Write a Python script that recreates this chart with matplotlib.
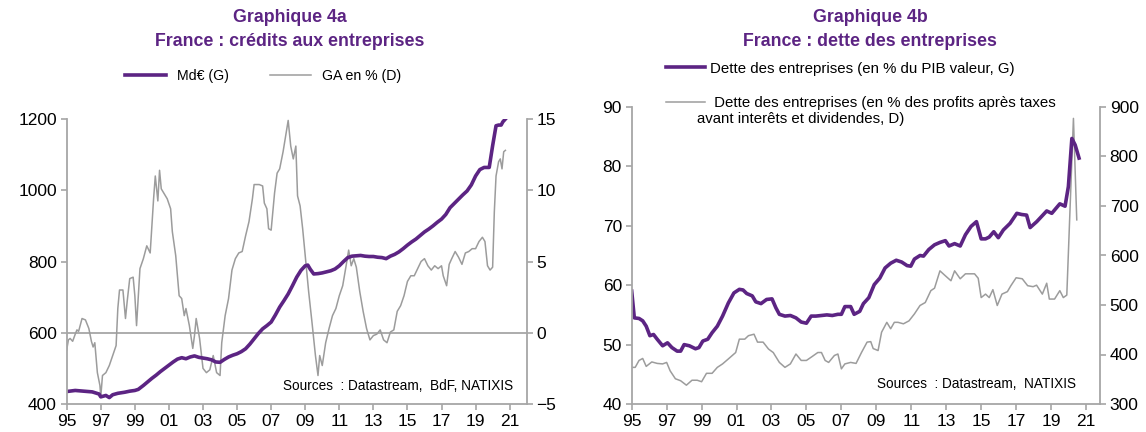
import matplotlib
matplotlib.use("Agg")
import matplotlib.pyplot as plt
import numpy as np

PURPLE = "#5C2483"
GRAY_LINE = "#9C9C9C"
AXIS_GRAY = "#A6A6A6"

# ---------------- Chart 4a data ----------------
credit_years = [1995.0, 1995.5, 1996.0, 1996.5, 1996.9, 1997.0, 1997.3, 1997.5, 1997.7, 1998.0, 1998.4,
                1998.7, 1999.0, 1999.2, 1999.5, 1999.75, 2000.0, 2000.25, 2000.5, 2000.75, 2001.0,
                2001.25, 2001.5, 2001.75, 2002.0, 2002.25, 2002.5, 2002.75, 2003.0, 2003.25, 2003.5,
                2003.75, 2004.0, 2004.25, 2004.5, 2004.75, 2005.0, 2005.25, 2005.5, 2005.75, 2006.0,
                2006.25, 2006.5, 2006.75, 2007.0, 2007.25, 2007.5, 2007.75, 2008.0, 2008.25, 2008.5,
                2008.75, 2009.0, 2009.15, 2009.3, 2009.5, 2009.75, 2010.0, 2010.25, 2010.5, 2010.75,
                2011.0, 2011.25, 2011.5, 2011.75, 2012.0, 2012.25, 2012.5, 2012.75, 2013.0, 2013.25,
                2013.5, 2013.75, 2014.0, 2014.25, 2014.5, 2014.75, 2015.0, 2015.25, 2015.5, 2015.75,
                2016.0, 2016.25, 2016.5, 2016.75, 2017.0, 2017.25, 2017.5, 2017.75, 2018.0, 2018.25,
                2018.5, 2018.75, 2019.0, 2019.25, 2019.5, 2019.8, 2020.0, 2020.2, 2020.35, 2020.5,
                2020.6, 2020.75]
credit_mde = [435, 438, 436, 434, 428, 420, 424, 418, 426, 430, 433,
              436, 438, 441, 452, 462, 472, 481, 491, 500, 509,
              518, 526, 530, 527, 532, 535, 531, 529, 527, 524,
              518, 517, 525, 532, 537, 541, 547, 555, 568, 583,
              598, 611, 620, 630, 650, 672, 690, 709, 732, 756,
              775, 788, 790, 778, 765, 766, 768, 771, 774, 779,
              788, 800, 811, 815, 816, 817, 815, 814, 814, 812,
              811, 808, 815, 820, 827, 836, 846, 855, 863, 873,
              883, 891, 900, 910, 919, 932, 951, 963, 975, 987,
              998, 1015, 1040, 1058, 1064, 1064, 1125, 1181, 1183, 1183,
              1192, 1200]

ga_years = [1995.0, 1995.1, 1995.2, 1995.35, 1995.5, 1995.6, 1995.7, 1995.9, 1996.1, 1996.3, 1996.45,
            1996.55, 1996.65, 1996.8, 1996.95, 1997.0, 1997.1, 1997.3, 1997.5, 1997.7, 1997.9,
            1998.0, 1998.1, 1998.3, 1998.45, 1998.55, 1998.7, 1998.9, 1999.0, 1999.1, 1999.3,
            1999.5, 1999.7, 1999.9, 2000.0, 2000.1, 2000.2, 2000.35, 2000.45, 2000.55, 2000.7,
            2000.9, 2001.1, 2001.2, 2001.4, 2001.6, 2001.75, 2001.9, 2002.0, 2002.2, 2002.4,
            2002.5, 2002.6, 2002.8, 2003.0, 2003.2, 2003.4, 2003.6, 2003.8, 2004.0, 2004.1,
            2004.3, 2004.5, 2004.7, 2004.9, 2005.1, 2005.3, 2005.5, 2005.7, 2005.9, 2006.0,
            2006.3, 2006.5, 2006.6, 2006.75, 2006.85, 2007.0, 2007.2, 2007.35, 2007.5, 2007.7,
            2007.85, 2008.0, 2008.15, 2008.3, 2008.45, 2008.55, 2008.7, 2008.85, 2009.0, 2009.2,
            2009.4, 2009.6, 2009.75, 2009.85, 2010.0, 2010.2, 2010.4, 2010.6, 2010.8, 2011.0,
            2011.2, 2011.4, 2011.55, 2011.7, 2011.85, 2012.0, 2012.2, 2012.4, 2012.6, 2012.8,
            2013.0, 2013.2, 2013.4, 2013.6, 2013.8, 2014.0, 2014.2, 2014.4, 2014.6, 2014.8,
            2015.0, 2015.2, 2015.4, 2015.6, 2015.8, 2016.0, 2016.2, 2016.4, 2016.6, 2016.8,
            2017.0, 2017.1, 2017.3, 2017.45, 2017.6, 2017.8, 2018.0, 2018.2, 2018.4, 2018.6,
            2018.8, 2019.0, 2019.2, 2019.4, 2019.55, 2019.7, 2019.85, 2020.0, 2020.1, 2020.2,
            2020.35, 2020.45, 2020.55, 2020.65, 2020.75]
ga_pct = [-1.2, -0.5, -0.4, -0.6, -0.1, 0.2, 0.1, 1.0, 0.9, 0.3, -0.6,
          -1.0, -0.7, -2.8, -3.7, -4.5, -3.0, -2.8, -2.3, -1.6, -0.9,
          1.7, 3.0, 3.0, 1.0, 2.2, 3.8, 3.9, 2.6, 0.5, 4.5,
          5.2, 6.1, 5.6, 7.5, 9.4, 11.0, 9.25, 11.4, 10.1, 9.8,
          9.4, 8.7, 7.1, 5.4, 2.6, 2.4, 1.2, 1.7, 0.5, -1.1,
          -0.2, 1.0, -0.4, -2.5, -2.8, -2.6, -1.6, -2.8, -3.0, -0.7,
          1.2, 2.4, 4.4, 5.2, 5.6, 5.7, 6.8, 7.8, 9.4, 10.4,
          10.4, 10.3, 9.1, 8.7, 7.3, 7.2, 9.8, 11.2, 11.5, 12.7,
          13.8, 14.9, 13.1, 12.2, 13.1, 9.6, 8.9, 7.3, 5.4, 2.9,
          0.7, -1.6, -3.0, -1.6, -2.3, -0.7, 0.3, 1.2, 1.7, 2.6,
          3.3, 4.7, 5.8, 4.7, 5.2, 4.6, 2.9, 1.5, 0.3, -0.5,
          -0.2, -0.1, 0.2, -0.5, -0.7, 0.05, 0.2, 1.5, 1.9, 2.6,
          3.6, 4.0, 4.0, 4.5, 5.0, 5.2, 4.7, 4.4, 4.7, 4.5,
          4.7, 4.0, 3.3, 4.8, 5.2, 5.7, 5.3, 4.8, 5.6, 5.7,
          5.9, 5.9, 6.4, 6.7, 6.4, 4.7, 4.4, 4.6, 8.5, 11.0,
          12.0, 12.2, 11.5, 12.7, 12.8]

# ---------------- Chart 4b data ----------------
debt_gdp_years = [1995.0, 1995.15, 1995.42, 1995.63, 1995.83, 1996.04, 1996.25, 1996.46, 1996.77, 1997.05,
                  1997.3, 1997.6, 1997.8, 1998.0, 1998.3, 1998.65, 1998.85, 1999.07, 1999.35, 1999.6,
                  1999.9, 2000.2, 2000.53, 2000.85, 2001.16, 2001.37, 2001.58, 2001.9, 2002.1, 2002.4,
                  2002.72, 2003.03, 2003.25, 2003.45, 2003.77, 2004.08, 2004.4, 2004.7, 2005.0, 2005.27,
                  2005.54, 2005.86, 2006.17, 2006.48, 2006.8, 2007.0, 2007.2, 2007.53, 2007.73, 2008.05,
                  2008.26, 2008.57, 2008.88, 2009.2, 2009.5, 2009.82, 2010.14, 2010.45, 2010.76, 2010.97,
                  2011.18, 2011.5, 2011.7, 2012.0, 2012.33, 2012.64, 2012.95, 2013.16, 2013.48, 2013.8,
                  2014.1, 2014.42, 2014.73, 2015.0, 2015.25, 2015.46, 2015.72, 2015.98, 2016.27, 2016.65,
                  2017.04, 2017.32, 2017.6, 2017.8, 2018.18, 2018.75, 2019.04, 2019.5, 2019.8, 2019.99,
                  2020.19, 2020.38, 2020.6]
debt_gdp = [59.0, 54.5, 54.4, 54.0, 53.1, 51.5, 51.7, 50.9, 49.8, 50.3,
            49.5, 48.9, 48.9, 50.0, 49.8, 49.3, 49.5, 50.6, 50.9, 52.0,
            53.1, 54.8, 57.0, 58.7, 59.3, 59.2, 58.6, 58.2, 57.2, 56.9,
            57.6, 57.7, 56.2, 55.1, 54.8, 54.9, 54.5, 53.8, 53.6, 54.8,
            54.8, 54.9, 55.0, 54.9, 55.1, 55.1, 56.4, 56.4, 55.1, 55.6,
            56.9, 57.9, 60.1, 61.2, 62.9, 63.7, 64.2, 63.9, 63.3, 63.2,
            64.4, 65.0, 64.9, 66.0, 66.8, 67.2, 67.5, 66.6, 67.0, 66.6,
            68.5, 69.9, 70.7, 67.8, 67.8, 68.1, 69.0, 68.0, 69.3, 70.4,
            72.1, 71.9, 71.8, 69.7, 70.7, 72.5, 72.1, 73.7, 73.3, 76.6,
            84.7, 83.6, 81.4]

debt_profit_years = [1995.0, 1995.2, 1995.42, 1995.63, 1995.83, 1996.15, 1996.46, 1996.77, 1997.0, 1997.2,
                     1997.5, 1997.8, 1998.13, 1998.45, 1998.75, 1999.0, 1999.28, 1999.6, 1999.9, 2000.2,
                     2000.53, 2000.95, 2001.16, 2001.47, 2001.68, 2002.0, 2002.2, 2002.52, 2002.83, 2003.1,
                     2003.45, 2003.77, 2004.08, 2004.4, 2004.7, 2005.0, 2005.33, 2005.65, 2005.86, 2006.07,
                     2006.27, 2006.6, 2006.8, 2007.0, 2007.2, 2007.53, 2007.84, 2008.15, 2008.47, 2008.68,
                     2008.82, 2009.1, 2009.3, 2009.6, 2009.82, 2010.03, 2010.24, 2010.55, 2010.87, 2011.18,
                     2011.5, 2011.8, 2012.12, 2012.33, 2012.64, 2012.95, 2013.27, 2013.48, 2013.8, 2014.1,
                     2014.42, 2014.62, 2014.83, 2015.0, 2015.25, 2015.46, 2015.67, 2015.92, 2016.19, 2016.5,
                     2016.7, 2017.0, 2017.35, 2017.66, 2017.97, 2018.17, 2018.5, 2018.75, 2018.9, 2019.2,
                     2019.5, 2019.7, 2019.9, 2020.28, 2020.47]
debt_profit = [374, 374, 388, 392, 376, 385, 382, 381, 384, 367,
               351, 347, 338, 348, 348, 345, 362, 362, 374, 381,
               391, 404, 431, 431, 438, 441, 425, 425, 411, 404,
               384, 374, 381, 401, 388, 388, 396, 404, 404, 388,
               384, 398, 401, 371, 381, 384, 382, 404, 425, 426,
               412, 408, 445, 465, 452, 465, 465, 462, 468, 482,
               499, 505, 529, 534, 569, 559, 549, 569, 553, 563,
               563, 563, 554, 515, 522, 515, 531, 499, 522, 527,
               539, 555, 553, 539, 537, 540, 522, 544, 512, 512,
               529, 515, 520, 877, 672]

year_ticks = list(range(1995, 2022, 2))
year_labels = [f"{y % 100:02d}" for y in year_ticks]
left4a_ticks = [400, 600, 800, 1000, 1200]
right4a_ticks = [-5, 0, 5, 10, 15]
left4b_ticks = [40, 50, 60, 70, 80, 90]
right4b_ticks = [300, 400, 500, 600, 700, 800, 900]

plt.rcParams['font.family'] = ['Liberation Sans', 'DejaVu Sans']

fig = plt.figure(figsize=(11.46, 4.32), dpi=100)
W, H = 1146, 432
TICK_FS = 12.5
TITLE_FS = 12.8


def style_axes(ax, axr):
    for a in (ax, axr):
        a.spines['top'].set_visible(False)
        for s in ('left', 'right', 'bottom'):
            a.spines[s].set_color(AXIS_GRAY)
            a.spines[s].set_linewidth(1.3)
        a.tick_params(direction='out', length=4, width=1.2, color=AXIS_GRAY,
                      labelsize=TICK_FS, labelcolor='black', pad=3)
    ax.spines['right'].set_visible(False)
    axr.spines['left'].set_visible(False)
    axr.spines['bottom'].set_visible(False)
    ax.set_xticks(year_ticks)
    ax.set_xticklabels(year_labels)
    ax.tick_params(axis='x', labelsize=TICK_FS, pad=3)


# ---------- Chart 4a ----------
ax1 = fig.add_axes([66.7 / W, 1 - 404 / H, (526.7 - 66.7) / W, (404 - 119) / H])
ax1r = ax1.twinx()
ax1.set_zorder(ax1r.get_zorder() + 1)
ax1.patch.set_visible(False)
ax1r.axhline(0, color=AXIS_GRAY, lw=1.3, zorder=1)
l_ga, = ax1r.plot(ga_years, ga_pct, color=GRAY_LINE, lw=1.1, label="GA en % (D)")
l_cr, = ax1.plot(credit_years, credit_mde, color=PURPLE, lw=2.6, label="Md€ (G)")
ax1.set_xlim(1995, 2022)
ax1.set_ylim(400, 1200)
ax1r.set_ylim(-5, 15)
ax1.set_yticks(left4a_ticks)
ax1r.set_yticks(right4a_ticks)
style_axes(ax1, ax1r)
ax1.text(0.970, 0.063, "Sources  : Datastream,  BdF, NATIXIS", transform=ax1.transAxes,
         ha='right', va='center', fontsize=9.8)

fig.text(290 / W, 1 - 18 / H, "Graphique 4a", ha='center', va='center', fontsize=TITLE_FS,
         fontweight='bold', color=PURPLE)
fig.text(290 / W, 1 - 41 / H, "France : crédits aux entreprises", ha='center', va='center',
         fontsize=TITLE_FS, fontweight='bold', color=PURPLE)
fig.legend(handles=[l_cr, l_ga], loc='center', bbox_to_anchor=(263 / W, 1 - 76 / H), ncol=2,
           frameon=False, fontsize=10.2, handlelength=2.9, handletextpad=0.8, columnspacing=2.9)

# ---------- Chart 4b ----------
ax2 = fig.add_axes([631.7 / W, 1 - 404 / H, (1100 - 631.7) / W, (404 - 107) / H])
ax2r = ax2.twinx()
ax2.set_zorder(ax2r.get_zorder() + 1)
ax2.patch.set_visible(False)
l_dp, = ax2r.plot(debt_profit_years, debt_profit, color=GRAY_LINE, lw=1.1,
                  label=" Dette des entreprises (en % des profits après taxes")
l_dg, = ax2.plot(debt_gdp_years, debt_gdp, color=PURPLE, lw=2.6,
                 label="Dette des entreprises (en % du PIB valeur, G)")
ax2.set_xlim(1995, 2021.8)
ax2.set_ylim(40, 90)
ax2r.set_ylim(300, 900)
ax2.set_yticks(left4b_ticks)
ax2r.set_yticks(right4b_ticks)
style_axes(ax2, ax2r)
ax2.text(0.949, 0.067, "Sources  : Datastream,  NATIXIS", transform=ax2.transAxes,
         ha='right', va='center', fontsize=9.8)

fig.text(870 / W, 1 - 18 / H, "Graphique 4b", ha='center', va='center', fontsize=TITLE_FS,
         fontweight='bold', color=PURPLE)
fig.text(870 / W, 1 - 41 / H, "France : dette des entreprises", ha='center', va='center',
         fontsize=TITLE_FS, fontweight='bold', color=PURPLE)
fig.legend(handles=[l_dg, l_dp], loc='upper left', bbox_to_anchor=(652 / W, 1 - 48 / H), ncol=1,
           frameon=False, fontsize=10.8, handlelength=2.65, handletextpad=0.3, labelspacing=1.35)
fig.text(697 / W, 1 - 118.5 / H, "avant interêts et dividendes, D)", ha='left', va='center',
         fontsize=10.8)

fig.savefig("out.png", dpi=100)
